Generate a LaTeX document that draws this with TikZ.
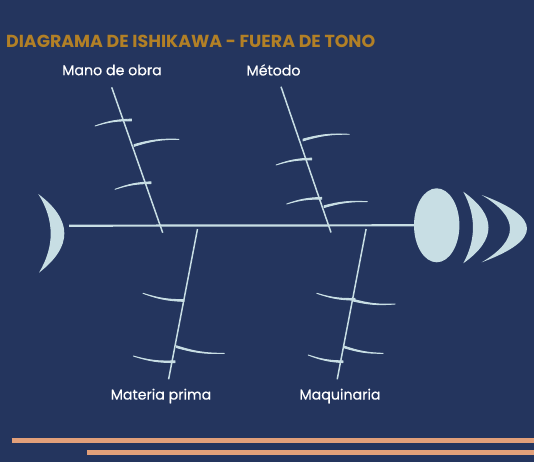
\documentclass[tikz,border=0pt]{standalone}
\usepackage{fontspec}
\setmainfont{Poppins}
\newfontfamily\labelfont[FakeBold=0.5]{Poppins}
\usetikzlibrary{shapes.geometric, calc}

\definecolor{navy}{RGB}{36,53,94}
\definecolor{bonecol}{RGB}{200,222,228}
\definecolor{titlegold}{RGB}{178,128,38}
\definecolor{stripe}{RGB}{226,160,122}

% tapered rib: tip, base, bend out, bend back
\newcommand{\bonerib}[4]{%
  \filldraw[bonecol, line width=0.9pt, line join=round, line cap=round] #1 to[bend #3=9] ($#2+(0,-0.9)$) -- ($#2+(0,0.9)$) to[bend #4=9] #1;
}

\begin{document}
\begin{tikzpicture}[x=1pt, y=-1pt]
    % Define styles
    \tikzstyle{cause} = [text=white, font=\labelfont\fontsize{14.2}{16}\selectfont, inner sep=0pt]
    \tikzstyle{bone} = [draw=bonecol, line width=1.5pt]
    \tikzstyle{spine} = [draw=bonecol, line width=2.2pt]
    \tikzstyle{fin} = [fill=bonecol]
    \tikzstyle{band} = [draw=stripe, line width=5pt]

    % Background
    \fill[navy] (0,0) rectangle (534,462);
    \useasboundingbox (0,0) rectangle (534,462);

    % Nodes
    \node (title) [anchor=west, text=titlegold, font=\fontsize{17.4}{19}\selectfont\bfseries, inner sep=0pt] at (6,41) {DIAGRAMA DE ISHIKAWA - FUERA DE TONO};
    \node (mano) [cause] at (112,70) {Mano de obra};
    \node (metodo) [cause] at (273.5,70) {Método};
    \node (materia) [cause] at (161,396) {Materia prima};
    \node (maquinaria) [cause] at (340,396) {Maquinaria};
    \node (head) [ellipse, fill=bonecol, minimum width=45.4pt, minimum height=74pt, inner sep=0pt] at (436.7,225.3) {};

    % Bone ends
    \coordinate (tail) at (69,225.7);
    \coordinate (manotop) at (111.7,87.3);
    \coordinate (manobot) at (162.7,232.7);
    \coordinate (metodotop) at (281,86.7);
    \coordinate (metodobot) at (331,232.5);
    \coordinate (materiatop) at (197.5,229);
    \coordinate (materiabot) at (168.6,379.3);
    \coordinate (maquinariatop) at (366.1,229);
    \coordinate (maquinariabot) at (337.2,379.3);

    % Spine and bones
    \draw [spine] (tail) -- (head.west);
    \draw [bone] (manotop) -- (manobot);
    \draw [bone] (metodotop) -- (metodobot);
    \draw [bone] (materiatop) -- (materiabot);
    \draw [bone] (maquinariatop) -- (maquinariabot);

    % Ribs
    \bonerib{(95,126)}{(131.5,120)}{left}{right}
    \bonerib{(179,139.3)}{(134,145.5)}{right}{left}
    \bonerib{(115,189.3)}{(151,182.7)}{left}{right}
    \bonerib{(349.3,134.3)}{(303,140)}{right}{left}
    \bonerib{(276,165)}{(311.7,159)}{left}{right}
    \bonerib{(286.7,204)}{(321.7,198.3)}{left}{right}
    \bonerib{(367.3,201.7)}{(324,206.7)}{right}{left}
    \bonerib{(143,293.3)}{(184,300.5)}{right}{left}
    \bonerib{(224.3,353.3)}{(176.5,346.7)}{left}{right}
    \bonerib{(133.3,356)}{(175,361.7)}{right}{left}
    \bonerib{(316.8,293.3)}{(355,299.3)}{right}{left}
    \bonerib{(395.1,304)}{(352.5,300)}{left}{right}
    \bonerib{(383.2,353.3)}{(343.5,346.7)}{left}{right}
    \bonerib{(308.2,355)}{(343,361.7)}{right}{left}

    % Tail and head fins
    \fill [fin] (38.3,194) .. controls (54.7,220) and (54.7,246.5) .. (39,272.7) .. controls (72.9,246.5) and (72.9,220) .. (38.3,194);
    \fill [fin] (463.3,191.7) .. controls (476.2,215.6) and (476.2,239.4) .. (463.3,263.3) .. controls (496.9,239.4) and (496.9,215.6) .. (463.3,191.7);
    \fill [fin] (481.7,195) .. controls (519.4,217.4) and (519.4,239.9) .. (481.7,262.3) .. controls (542.1,239.9) and (542.1,217.4) .. (481.7,195);

    % Bottom bands
    \draw [band] (11.6,440) -- (534,440);
    \draw [band] (86.9,452.3) -- (534,452.3);
\end{tikzpicture}
\end{document}
